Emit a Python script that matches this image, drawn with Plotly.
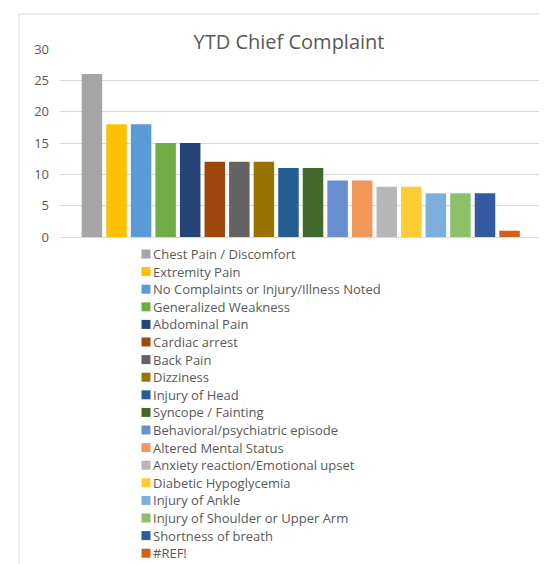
import plotly.graph_objects as go

categories = [
    "Chest Pain / Discomfort",
    "Extremity Pain",
    "No Complaints or Injury/Illness Noted",
    "Generalized Weakness",
    "Abdominal Pain",
    "Cardiac arrest",
    "Back Pain",
    "Dizziness",
    "Injury of Head",
    "Syncope / Fainting",
    "Behavioral/psychiatric episode",
    "Altered Mental Status",
    "Anxiety reaction/Emotional upset",
    "Diabetic Hypoglycemia",
    "Injury of Ankle",
    "Injury of Shoulder or Upper Arm",
    "Shortness of breath",
    "#REF!",
]
values = [26, 18, 18, 15, 15, 12, 12, 12, 11, 11, 9, 9, 8, 8, 7, 7, 7, 1]
colors = [
    "#A5A5A5", "#FFC000", "#5B9BD5", "#70AD47", "#264478", "#9E480E",
    "#636363", "#997300", "#255E91", "#43682B", "#698ED0", "#F1975A",
    "#B7B7B7", "#FFCD33", "#7CAFDD", "#8CC168", "#335AA1", "#D0601A",
]
y_ticks = [0, 5, 10, 15, 20, 25, 30]

# page body adds an 8px margin; figure sized to fill the rest of the window
OFF = 8
W, H = 547 - OFF, 564 - OFF
L, R, T, B = 60 - OFF, 547 - 541, 49 - OFF, 0
plot_w = W - L - R
plot_h = H - T - B
bottom_px = 237 - OFF
dom_low = (H - bottom_px) / plot_h


def px_x(px):
    return (px - L) / plot_w


def px_y(py):
    return (H - py) / plot_h


fig = go.Figure()
for cat, val, col in zip(categories, values, colors):
    fig.add_trace(go.Bar(x=[cat], y=[val], name=cat, showlegend=False,
                         marker=dict(color=col, line=dict(width=0))))

font_family = "Open Sans, Liberation Sans, Arial, sans-serif"
grey = "#595959"

# legend laid out as a single column below the bars (Excel style)
leg_first = 254 - OFF
leg_step = 17.6
sw_x0, sw_x1 = 141.5 - OFF, 150.5 - OFF
txt_x = 152 - OFF
sw = 9

annotations = []
shapes = [dict(type="rect", xref="paper", yref="paper",
               x0=px_x(19 - OFF), x1=px_x(W + 20),
               y0=px_y(14 - OFF), y1=-0.2,
               line=dict(color="#D9D9D9", width=1),
               fillcolor="rgba(0,0,0,0)", layer="below")]
for i, (cat, col) in enumerate(zip(categories, colors)):
    cy = leg_first + i * leg_step
    shapes.append(dict(type="rect", xref="paper", yref="paper",
                       x0=px_x(sw_x0), x1=px_x(sw_x1),
                       y0=px_y(cy - sw / 2), y1=px_y(cy + sw / 2),
                       line=dict(width=0), fillcolor=col))
    annotations.append(dict(text=cat, xref="paper", yref="paper",
                            x=px_x(txt_x), y=px_y(cy), xanchor="left", yanchor="middle",
                            showarrow=False, borderpad=0,
                            font=dict(family=font_family, size=13, color=grey)))

fig.update_layout(
    width=W, height=H,
    margin=dict(l=L, r=R, t=T, b=B, autoexpand=False),
    paper_bgcolor="white", plot_bgcolor="white",
    barmode="overlay", bargap=0.165,
    title=dict(text="YTD Chief Complaint", x=(289 - OFF) / W, xanchor="center",
               y=1 - (42 - OFF) / H, yanchor="middle",
               font=dict(family=font_family, size=20, color=grey)),
    xaxis=dict(type="category", categoryorder="array", categoryarray=categories,
               range=[-1.30, len(categories) - 1 + 1.28], showticklabels=False,
               showgrid=False, zeroline=False, showline=False, ticks=""),
    yaxis=dict(domain=[dom_low, 1], range=[0, 30], tickvals=y_ticks,
               showgrid=True, gridcolor="#D9D9D9", gridwidth=1,
               zeroline=True, zerolinecolor="#D9D9D9", zerolinewidth=1,
               showline=False, ticks="", ticklabelstandoff=10,
               tickfont=dict(family=font_family, size=13, color=grey)),
    showlegend=False,
    shapes=shapes,
    annotations=annotations,
)

fig.write_html("out.html")
